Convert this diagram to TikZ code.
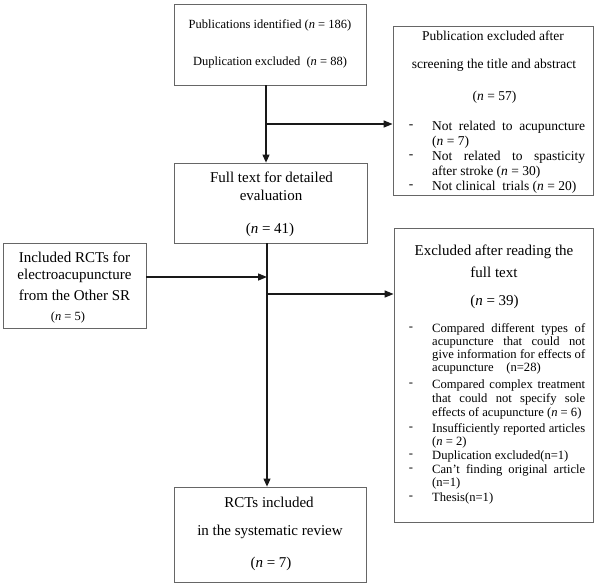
\documentclass[tikz,border=0pt]{standalone}
\usepackage{fontspec}
\setmainfont{Liberation Serif}
\usetikzlibrary{arrows.meta}
\newcommand\fz[1]{\fontsize{#1}{#1}\selectfont}
\newcommand\nn{\textit{n}}
\newcommand\jl[1]{\makebox[153pt][s]{#1}}
\begin{document}
\begin{tikzpicture}[x=1pt,y=-1pt,
  box/.style={draw=black!60, line width=0.8pt, inner sep=0pt, fill=white},
  t/.style={inner sep=0pt, anchor=center},
  li/.style={inner sep=0pt, anchor=west},
  dsh/.style={inner sep=0pt, anchor=center},
  conn/.style={draw=black!90, line width=1.1pt, -{Triangle[length=8pt,width=7pt]}},
  hconn/.style={draw=black!90, line width=1.4pt, -{Triangle[length=9pt,width=7pt]}}]
\useasboundingbox (0,0) rectangle (604,586);
% boxes
\node[box, minimum width=192pt, minimum height=81pt] (b1) at (270,44.5) {};
\node[box, minimum width=200pt, minimum height=169pt] (b2) at (493,110.5) {};
\node[box, minimum width=193pt, minimum height=80pt] (b3) at (270.5,203) {};
\node[box, minimum width=143pt, minimum height=85pt] (b4) at (74.5,285.5) {};
\node[box, minimum width=199pt, minimum height=294pt] (b5) at (493.5,375) {};
\node[box, minimum width=192pt, minimum height=95pt] (b6) at (270,534.5) {};
% box 1 text
\node[t, font=\fz{12.5}] (b1a) at (270,25) {Publications identified (\nn\ = 186)};
\node[t, font=\fz{12.5}] (b1b) at (270,62) {Duplication excluded\ \ (\nn\ = 88)};
% box 2 text
\node[t, font=\fz{13.5}] (b2a) at (493,36) {Publication excluded after};
\node[t, font=\fz{13.5}] (b2b) at (494,65) {screening the title and abstract};
\node[t, font=\fz{13.5}] (b2c) at (494.5,97) {(\nn\ = 57)};
\node[dsh, font=\fz{13.5}] (b2d1) at (411,127) {-};
\node[dsh, font=\fz{13.5}] (b2d2) at (411,157) {-};
\node[dsh, font=\fz{13.5}] (b2d3) at (411,187) {-};
\node[li, font=\fz{13.5}] (b2l1) at (432,127) {\jl{Not related to acupuncture}};
\node[li, font=\fz{13.5}] (b2l2) at (432,142) {(\nn\ = 7)};
\node[li, font=\fz{13.5}] (b2l3) at (432,157) {\jl{Not related to spasticity}};
\node[li, font=\fz{13.5}] (b2l4) at (432,172) {after stroke (\nn\ = 30)};
\node[li, font=\fz{13.5}] (b2l5) at (432,187) {Not clinical\ \ trials (\nn\ = 20)};
% box 3 text
\node[t, font=\fz{15}] (b3a) at (271.5,177) {Full text for detailed};
\node[t, font=\fz{15}] (b3b) at (271,195) {evaluation};
\node[t, font=\fz{15}] (b3c) at (270,230) {(\nn\ = 41)};
% box 4 text
\node[t, font=\fz{15}] (b4a) at (74.5,257) {Included RCTs for};
\node[t, font=\fz{15}] (b4b) at (74.5,276) {electroacupuncture};
\node[t, font=\fz{15}] (b4c) at (74.5,295) {from the Other SR};
\node[t, font=\fz{12.5}] (b4d) at (68,317) {(\nn\ = 5)};
% box 5 text
\node[t, font=\fz{15}] (b5a) at (494,252) {Excluded after reading the};
\node[t, font=\fz{15}] (b5b) at (494,272) {full text};
\node[t, font=\fz{15}] (b5c) at (494.5,302) {(\nn\ = 39)};
\node[dsh, font=\fz{12.6}] (b5d1) at (411,329) {-};
\node[dsh, font=\fz{12.6}] (b5d2) at (411,385) {-};
\node[dsh, font=\fz{12.6}] (b5d3) at (411,429) {-};
\node[dsh, font=\fz{12.6}] (b5d4) at (411,456) {-};
\node[dsh, font=\fz{12.6}] (b5d5) at (411,470) {-};
\node[dsh, font=\fz{12.6}] (b5d6) at (411,498) {-};
\node[li, font=\fz{12.6}] (b5l1) at (432,329) {\jl{Compared different types of}};
\node[li, font=\fz{12.6}] (b5l2) at (432,342) {\jl{acupuncture that could not}};
\node[li, font=\fz{12.6}] (b5l3) at (432,355) {\jl{give information for effects of}};
\node[li, font=\fz{12.6}] (b5l4) at (432,368) {acupuncture\quad(n=28)};
\node[li, font=\fz{12.6}] (b5l5) at (432,385) {\jl{Compared complex treatment}};
\node[li, font=\fz{12.6}] (b5l6) at (432,399) {\jl{that could not specify sole}};
\node[li, font=\fz{12.6}] (b5l7) at (432,413) {effects of acupuncture (\nn\ = 6)};
\node[li, font=\fz{12.6}] (b5l8) at (432,429) {\jl{Insufficiently reported articles}};
\node[li, font=\fz{12.6}] (b5l9) at (432,442) {(\nn\ = 2)};
\node[li, font=\fz{12.6}] (b5l10) at (432,456) {Duplication excluded(n=1)};
\node[li, font=\fz{12.6}] (b5l11) at (432,470) {\jl{Can't finding original article}};
\node[li, font=\fz{12.6}] (b5l12) at (432,483) {(n=1)};
\node[li, font=\fz{12.6}] (b5l13) at (432,498) {Thesis(n=1)};
% box 6 text
\node[t, font=\fz{15}] (b6a) at (269,502) {RCTs included};
\node[t, font=\fz{15}] (b6b) at (270,532) {in the systematic review};
\node[t, font=\fz{15}] (b6c) at (271,564) {(\nn\ = 7)};
% connectors
\coordinate (j1) at (266,124);
\coordinate (j2) at (267,277);
\coordinate (j3) at (267,294);
\draw[conn] (b1.south -| j1) -- (b3.north -| j1);
\draw[hconn] (j1) -- (b2.west |- j1);
\draw[conn] (b3.south -| j2) -- (b6.north -| j2);
\draw[hconn] (b4.east |- j2) -- (j2);
\draw[hconn] (j3) -- (b5.west |- j3);
\end{tikzpicture}
\end{document}
